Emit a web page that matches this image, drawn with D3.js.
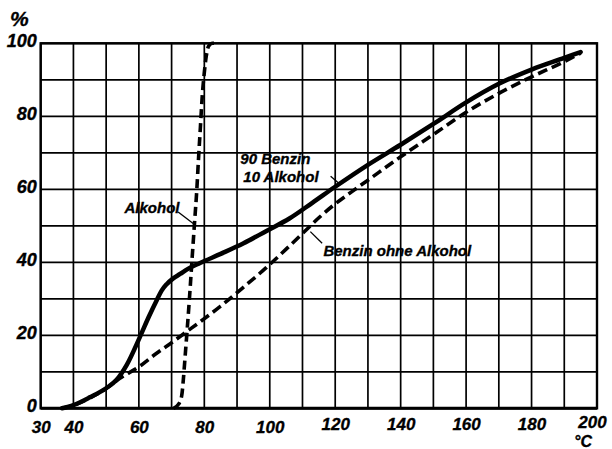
<!DOCTYPE html>
<html>
<head>
<meta charset="utf-8">
<script src="https://cdn.jsdelivr.net/npm/d3@7"></script>
<style>
  html, body { margin: 0; padding: 0; background: #fff; }
  svg text { font-family: "Liberation Sans", Arial, sans-serif; font-weight: bold; font-style: italic; fill: #000; stroke: #000; stroke-width: 0.35px; }
</style>
</head>
<body>
<svg id="chart" width="612" height="449"></svg>
<script>
// ---- data (temperature °C, distilled %) ----
const xTickLabels = [30, 40, 60, 80, 100, 120, 140, 160, 180, 200];
const yTickLabels = [0, 20, 40, 60, 80, 100];

const mixTemp = [36.5, 40, 45, 50, 53.2, 56.3, 60.3, 63, 65.5, 67, 68.5, 70.5, 72.6, 75, 78.7, 85, 92, 99, 106, 113, 120, 130, 140, 150, 160, 170, 180, 190, 195];
const mixPct  = [0, 0.9, 3, 5.5, 7.8, 11.9, 19.5, 25, 29.7, 32.3, 34, 35.6, 36.8, 38.2, 39.8, 42.3, 45.2, 48.6, 52, 56.3, 60.7, 66.7, 72.2, 77.9, 83.8, 88.9, 92.8, 96, 97.6];

const benzinTemp = [36.5, 40, 45, 50, 54.2, 60.4, 65, 70.5, 74.6, 78.7, 85, 92, 99, 105, 110, 115, 120, 125, 130, 140, 150, 160, 170, 180, 190, 195];
const benzinPct  = [0, 0.8, 2.8, 5.4, 8.2, 11.6, 14.8, 18.3, 21, 23.7, 28, 33.2, 38.6, 43.6, 47.9, 52.2, 56, 59.3, 62.5, 68.9, 75, 81.1, 86.3, 90.8, 95, 97.3];

const alkTemp = [70.6, 72.2, 73.1, 73.6, 74.2, 74.8, 75.6, 76.3, 77, 77.7, 78.2, 78.8, 79.4, 80, 80.6, 81.3, 82.5, 84];
const alkPct  = [0, 1.2, 3.5, 8, 15, 22, 32, 41.5, 50.7, 59.8, 68, 77, 86, 92, 96.5, 99.2, 100, 100];

const seriesNames = ["90 Benzin 10 Alkohol", "Benzin ohne Alkohol", "Alkohol"];

// annotation labels: [text lines], anchor (°C, %), leader from / to (°C, %)
const annoText   = [["Alkohol"], ["90 Benzin", "10 Alkohol"], ["Benzin ohne Alkohol"]];
const annoAnchor = [[55.6, 53.6], [91, 66.8], [116.4, 41.8]];
const annoFrom   = [[72.0, 53.8], [118.6, 63.6], [112.4, 48.4]];
const annoTo     = [[76.6, 50.6], [121.2, 61.6], [116.0, 45.2]];

// ---- drawing ----
const svg = d3.select("#chart");
const x = d3.scaleLinear().domain([30, 200]).range([40.7, 597]);
const y = d3.scaleLinear().domain([0, 100]).range([408.3, 43.3]);

// grid
const g = svg.append("g");
g.selectAll("line.v").data(d3.range(30, 201, 10)).join("line")
  .attr("x1", d => x(d)).attr("x2", d => x(d))
  .attr("y1", y(0)).attr("y2", y(100))
  .attr("stroke", "#000").attr("stroke-width", 1.7);
g.selectAll("line.h").data(d3.range(0, 101, 10)).join("line")
  .attr("x1", x(30)).attr("x2", x(200))
  .attr("y1", d => y(d)).attr("y2", d => y(d))
  .attr("stroke", "#000").attr("stroke-width", d => d === 0 ? 3 : 1.7);
// frame
svg.append("rect")
  .attr("x", x(30)).attr("y", y(100))
  .attr("width", x(200) - x(30)).attr("height", y(0) - y(100))
  .attr("fill", "none").attr("stroke", "#000").attr("stroke-width", 2.4);

// axes labels via d3 axes
const xAxis = d3.axisBottom(x).tickValues(xTickLabels).tickSize(0).tickPadding(0).tickFormat(d3.format("d"));
const xa = svg.append("g").attr("transform", `translate(0, 433)`).call(xAxis);
xa.select(".domain").remove();
xa.selectAll("text").attr("y", 0).style("font-size", "17px")
  .attr("font-family", null).attr("fill", "#000")
  .attr("dx", d => d === 200 ? -5 : 0)
  .attr("dy", d => d === 200 ? -5 : (d >= 120 ? -3 : 0));

const yAxis = d3.axisLeft(y).tickValues(yTickLabels).tickSize(0).tickPadding(0).tickFormat(d3.format("d"));
const ya = svg.append("g").attr("transform", `translate(${x(30) - 4}, 0)`).call(yAxis);
ya.select(".domain").remove();
ya.selectAll("text").attr("dy", "0.2em").style("font-size", "18px")
  .attr("font-family", null).attr("fill", "#000");

svg.append("text").attr("x", 10).attr("y", 26).style("font-size", "21px").text("%");
svg.append("text").attr("x", 574).attr("y", 447).style("font-size", "16px").text("°C");

// curves
const line = d3.line().x(d => x(d[0])).y(d => y(d[1])).curve(d3.curveMonotoneX);
const mix = d3.zip(mixTemp, mixPct);
const benzin = d3.zip(benzinTemp, benzinPct);
const alk = d3.zip(alkTemp, alkPct);

const lines = svg.append("g").attr("fill", "none").attr("stroke", "#000");
lines.append("path").datum(benzin).attr("d", line)
  .attr("stroke-width", 3.6).attr("stroke-dasharray", "10,5").attr("class", "benzin");
lines.append("path").datum(alk).attr("d", line)
  .attr("stroke-width", 3.6).attr("stroke-dasharray", "9,5").attr("class", "alkohol");
lines.append("path").datum(mix).attr("d", line)
  .attr("stroke-width", 4.5).attr("stroke-linecap", "round").attr("class", "mix");

// annotations
annoText.forEach((t, i) => {
  const txt = svg.append("text")
    .attr("x", x(annoAnchor[i][0])).attr("y", y(annoAnchor[i][1]))
    .style("font-size", "15px");
  t.forEach((s, j) => {
    txt.append("tspan").attr("x", x(annoAnchor[i][0]) + j * 3).attr("dy", j === 0 ? 0 : 18).text(s);
  });
  svg.append("line")
    .attr("x1", x(annoFrom[i][0])).attr("y1", y(annoFrom[i][1]))
    .attr("x2", x(annoTo[i][0])).attr("y2", y(annoTo[i][1]))
    .attr("stroke", "#000").attr("stroke-width", 1.3);
});
</script>
</body>
</html>
